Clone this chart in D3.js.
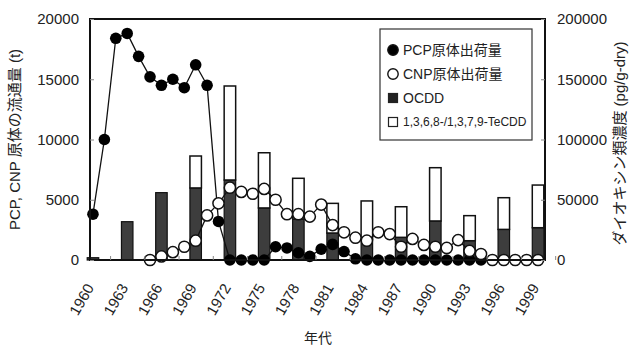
<!DOCTYPE html>
<html>
<head>
<meta charset="utf-8">
<script src="https://cdn.jsdelivr.net/npm/d3@7"></script>
<style>
  body { margin: 0; background: #fff; }
  text { font-family: "Liberation Sans", Arial, "Noto Sans CJK JP", sans-serif; fill: #222; }
</style>
</head>
<body>
<svg class="chart" width="637" height="351"></svg>
<script>
// PCP shipments (t), 1960-1994
var pcpYears = d3.range(1960, 1995);
var pcpValues = [3800, 10000, 18400, 18800, 16900, 15200, 14500, 15000, 14300, 16200, 14500, 3200,
    0, 0, 0, 0, 1100, 1000, 600, 300, 900, 1300, 700, 100,
    0, 0, 0, 0, 0, 0, 0, 0, 0, 0, 0];

// CNP shipments (t), 1965-1999
var cnpYears = d3.range(1965, 2000);
var cnpValues = [0, 300, 650, 1100, 1600, 3700, 4700, 6000, 5650, 5500, 5900, 5000,
    3800, 3800, 3600, 4600, 2900, 2300, 1850, 1600, 2300, 2150, 1100, 1750,
    1250, 1100, 1000, 1650, 750, 500, 0, 0, 0, 0, 0];

// dioxin concentration (pg/g-dry), sediment layers
var dxnYears = [1960, 1963, 1966, 1969, 1972, 1975, 1978, 1981, 1984, 1987, 1990, 1993, 1996, 1999];
var ocddValues = [1900, 31800, 55900, 59800, 66400, 43200, 34000, 22400, 17000, 18800, 32400, 16000, 25400, 26800];
var tecddValues = [0, 0, 0, 26500, 78000, 45800, 33800, 24600, 32000, 25400, 44200, 20800, 26300, 35400];

var leftTicks = [0, 5000, 10000, 15000, 20000];
var rightTicks = [0, 50000, 100000, 150000, 200000];
var yearTicks = d3.range(1960, 2000, 3);

var svg = d3.select(".chart"),
    margin = { top: 19, right: 92, bottom: 91, left: 90 },
    width = +svg.attr("width") - margin.left - margin.right,
    height = +svg.attr("height") - margin.top - margin.bottom;

var x = d3.scaleLinear().domain([1959.74, 1999.61]).range([0, width]),
    y = d3.scaleLinear().domain([0, 20000]).range([height, 0]),
    y2 = d3.scaleLinear().domain([0, 200000]).range([height, 0]);

var g = svg.append("g")
    .attr("transform", "translate(" + margin.left + "," + margin.top + ")");

var barW = 11.5;

// stacked bars
var bars = g.append("g").attr("class", "bars");
bars.selectAll(".ocdd")
    .data(dxnYears)
    .enter().append("rect")
    .attr("class", "ocdd")
    .attr("x", function(d) { return x(d) - barW / 2; })
    .attr("y", function(d, i) { return y2(ocddValues[i]); })
    .attr("width", barW)
    .attr("height", function(d, i) { return height - y2(ocddValues[i]); })
    .attr("fill", "#3d3d3d")
    .attr("stroke", "#111")
    .attr("stroke-width", 1.2);

bars.selectAll(".tecdd")
    .data(dxnYears)
    .enter().append("rect")
    .attr("class", "tecdd")
    .attr("x", function(d) { return x(d) - barW / 2; })
    .attr("y", function(d, i) { return y2(ocddValues[i] + tecddValues[i]); })
    .attr("width", barW)
    .attr("height", function(d, i) { return y2(ocddValues[i]) - y2(ocddValues[i] + tecddValues[i]); })
    .attr("fill", "#fff")
    .attr("stroke", "#111")
    .attr("stroke-width", 1.5)
    .style("display", function(d, i) { return tecddValues[i] > 0 ? null : "none"; });

// lines
var line = d3.line()
    .x(function(d) { return x(d[0]); })
    .y(function(d) { return y(d[1]); });

var pcp = pcpYears.map(function(d, i) { return [d, pcpValues[i]]; });
var cnp = cnpYears.map(function(d, i) { return [d, cnpValues[i]]; });

g.append("path").datum(pcp)
    .attr("d", line).attr("fill", "none").attr("stroke", "#111").attr("stroke-width", 1.3);
g.selectAll(".pcp")
    .data(pcp)
    .enter().append("circle")
    .attr("class", "pcp")
    .attr("cx", function(d) { return x(d[0]); })
    .attr("cy", function(d) { return y(d[1]); })
    .attr("r", 5.8)
    .attr("fill", "#000");

g.append("path").datum(cnp)
    .attr("d", line).attr("fill", "none").attr("stroke", "#111").attr("stroke-width", 1.3);
g.selectAll(".cnp")
    .data(cnp)
    .enter().append("circle")
    .attr("class", "cnp")
    .attr("cx", function(d) { return x(d[0]); })
    .attr("cy", function(d) { return y(d[1]); })
    .attr("r", 5.6)
    .attr("fill", "#fff")
    .attr("stroke", "#111")
    .attr("stroke-width", 1.5);

// frame
g.append("rect")
    .attr("width", width)
    .attr("height", height)
    .attr("fill", "none")
    .attr("stroke", "#111")
    .attr("stroke-width", 2);

// axes
g.append("g")
    .call(d3.axisLeft(y).tickValues(leftTicks).tickSize(-4).tickPadding(11).tickFormat(d3.format("d")))
    .call(function(a) {
        a.select(".domain").remove();
        a.selectAll("line").attr("stroke", "#888");
        a.selectAll("text").attr("font-size", "15px").style("fill", "#222");
    });

g.append("g")
    .attr("transform", "translate(" + width + ",0)")
    .call(d3.axisRight(y2).tickValues(rightTicks).tickSize(-4).tickPadding(12).tickFormat(d3.format("d")))
    .call(function(a) {
        a.select(".domain").remove();
        a.selectAll("line").attr("stroke", "#888");
        a.selectAll("text").attr("font-size", "15px").style("fill", "#222");
    });

var xAxis = g.append("g")
    .attr("transform", "translate(0," + height + ")")
    .call(d3.axisBottom(x).tickValues(yearTicks.map(function(d) { return d + 1.5; })).tickSize(-4).tickFormat(""));
xAxis.select(".domain").remove();
xAxis.selectAll("line").attr("stroke", "#888");

g.append("g")
    .selectAll("text")
    .data(yearTicks)
    .enter().append("text")
    .attr("transform", function(d) { return "translate(" + (x(d) - 3) + "," + (height + 25) + ") rotate(-60)"; })
    .attr("text-anchor", "end")
    .attr("dy", "0.35em")
    .attr("font-size", "15px")
    .text(function(d) { return d; });

// axis titles
svg.append("text")
    .attr("transform", "translate(20," + (margin.top + height / 2) + ") rotate(-90)")
    .attr("text-anchor", "middle")
    .attr("font-size", "15px")
    .text("PCP, CNP 原体の流通量 (t)");

svg.append("text")
    .attr("transform", "translate(625," + (margin.top + height / 2 + 4) + ") rotate(-90)")
    .attr("text-anchor", "middle")
    .attr("font-size", "15px")
    .text("ダイオキシン類濃度 (pg/g-dry)");

svg.append("text")
    .attr("x", 318)
    .attr("y", 343)
    .attr("text-anchor", "middle")
    .attr("font-size", "14px")
    .text("年代");

// legend
var legend = svg.append("g").attr("transform", "translate(380,29)");
legend.append("rect")
    .attr("width", 152).attr("height", 111)
    .attr("fill", "#fff").attr("stroke", "#333").attr("stroke-width", 1.2);

var legendItems = ["PCP原体出荷量", "CNP原体出荷量", "OCDD", "1,3,6,8-/1,3,7,9-TeCDD"];
var item = legend.selectAll(".item")
    .data(legendItems)
    .enter().append("g")
    .attr("transform", function(d, i) { return "translate(13," + (21 + i * 24) + ")"; });

item.each(function(d, i) {
    var s = d3.select(this);
    if (i < 2) {
        s.append("circle").attr("r", 5.2)
            .attr("fill", i == 0 ? "#000" : "#fff")
            .attr("stroke", "#111").attr("stroke-width", 1.4);
    } else {
        s.append("rect").attr("x", -4.5).attr("y", -4.5).attr("width", 9).attr("height", 9)
            .attr("fill", i == 2 ? "#222" : "#fff")
            .attr("stroke", "#222").attr("stroke-width", 1.2);
    }
    s.append("text")
        .attr("x", 10)
        .attr("dy", "0.36em")
        .attr("font-size", i == 3 ? "12px" : "14px")
        .text(d);
});
</script>
</body>
</html>
